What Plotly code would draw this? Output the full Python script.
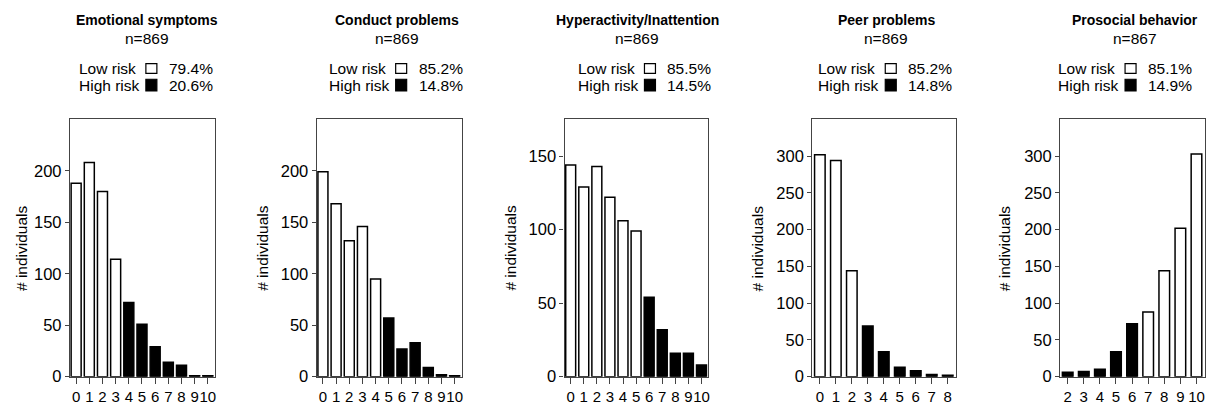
import plotly.graph_objects as go

# ---------------- data ----------------
panel_titles = ["Emotional symptoms", "Conduct problems", "Hyperactivity/Inattention",
                "Peer problems", "Prosocial behavior"]
n_labels = ["n=869", "n=869", "n=869", "n=869", "n=867"]
low_pct = ["79.4%", "85.2%", "85.5%", "85.2%", "85.1%"]
high_pct = ["20.6%", "14.8%", "14.5%", "14.8%", "14.9%"]

emotional_scores = [0, 1, 2, 3, 4, 5, 6, 7, 8, 9, 10]
emotional_counts = [188, 208, 180, 114, 72, 51, 29, 14, 11, 1, 1]
emotional_risk = ["L", "L", "L", "L", "H", "H", "H", "H", "H", "H", "H"]

conduct_scores = [0, 1, 2, 3, 4, 5, 6, 7, 8, 9, 10]
conduct_counts = [199, 168, 132, 146, 95, 57, 27, 33, 9, 2, 1]
conduct_risk = ["L", "L", "L", "L", "L", "H", "H", "H", "H", "H", "H"]

hyper_scores = [0, 1, 2, 3, 4, 5, 6, 7, 8, 9, 10]
hyper_counts = [144, 129, 143, 122, 106, 99, 54, 32, 16, 16, 8]
hyper_risk = ["L", "L", "L", "L", "L", "L", "H", "H", "H", "H", "H"]

peer_scores = [0, 1, 2, 3, 4, 5, 6, 7, 8]
peer_counts = [302, 294, 144, 69, 34, 13, 8, 3, 2]
peer_risk = ["L", "L", "L", "H", "H", "H", "H", "H", "H"]

prosocial_scores = [2, 3, 4, 5, 6, 7, 8, 9, 10]
prosocial_counts = [6, 7, 10, 34, 72, 88, 144, 202, 303]
prosocial_risk = ["H", "H", "H", "H", "H", "L", "L", "L", "L"]

y_ticks = [[0, 50, 100, 150, 200], [0, 50, 100, 150, 200], [0, 50, 100, 150],
           [0, 50, 100, 150, 200, 250, 300], [0, 50, 100, 150, 200, 250, 300]]
y_max = [250, 250, 175, 350, 350]

# ---------------- layout constants ----------------
W, H = 1209, 417
FONT = "Liberation Sans, Arial, Helvetica, sans-serif"
frames_px = [(70, 215), (317, 462), (565, 709), (813, 957), (1061, 1206)]
frame_top, frame_bot = 122, 385
bar_widths = [0.76, 0.76, 0.76, 0.66, 0.66]
box_left_px = [146, 396, 645, 886, 1126]
title_cx_px = [147, 397, 638, 887, 1136]
ytitle_off_px = [49, 55, 55, 55, 56]

panels = [
    (emotional_scores, emotional_counts, emotional_risk),
    (conduct_scores, conduct_counts, conduct_risk),
    (hyper_scores, hyper_counts, hyper_risk),
    (peer_scores, peer_counts, peer_risk),
    (prosocial_scores, prosocial_counts, prosocial_risk),
]


def px_x(p):
    return p / W


def px_y(p):
    return 1 - p / H


fig = go.Figure()
annotations = []
shapes = []

for i, (scores, counts, risk) in enumerate(panels):
    k = i + 1
    xa = "x" if k == 1 else f"x{k}"
    ya = "y" if k == 1 else f"y{k}"
    colors = ["black" if r == "H" else "white" for r in risk]
    fig.add_trace(go.Bar(
        x=scores, y=counts, xaxis=xa, yaxis=ya,
        marker=dict(color=colors, line=dict(color="black", width=1.5)),
        width=bar_widths[i], showlegend=False, hoverinfo="x+y",
    ))
    L, R = frames_px[i]
    fig.layout[f"xaxis{'' if k == 1 else k}"] = dict(
        domain=[px_x(L), px_x(R)], anchor=ya,
        range=[scores[0] - 0.47, scores[-1] + 0.53],
        tickmode="array", tickvals=scores, ticktext=[str(s) for s in scores],
        ticks="outside", ticklen=6, tickwidth=1.3, tickcolor="#444",
        showline=True, mirror=True, linecolor="#444", linewidth=1.3,
        showgrid=False, zeroline=False, tickangle=0,
        tickfont=dict(family=FONT, size=15, color="black"),
        fixedrange=True,
    )
    fig.layout[f"yaxis{'' if k == 1 else k}"] = dict(
        domain=[px_y(frame_bot), px_y(frame_top)], anchor=xa,
        range=[0, y_max[i]],
        tickmode="array", tickvals=y_ticks[i],
        ticks="outside", ticklen=4, tickwidth=1.3, tickcolor="#444",
        showline=True, mirror=True, linecolor="#444", linewidth=1.3,
        showgrid=False, zeroline=False,
        tickfont=dict(family=FONT, size=16.5, color="black"),
        fixedrange=True,
    )

    cx = title_cx_px[i]
    annotations.append(dict(
        text=f"<b>{panel_titles[i]}</b>", x=px_x(cx), y=px_y(20),
        xref="paper", yref="paper", xanchor="center", yanchor="middle",
        showarrow=False, font=dict(family=FONT, size=14, color="black")))
    annotations.append(dict(
        text=n_labels[i], x=px_x(cx), y=px_y(39),
        xref="paper", yref="paper", xanchor="center", yanchor="middle",
        showarrow=False, font=dict(family=FONT, size=15.5, color="black")))

    bl = box_left_px[i]
    for row_y, lab, pct, fill, bh in [(70, "Low risk", low_pct[i], "white", 10),
                                      (87, "High risk", high_pct[i], "black", 12)]:
        annotations.append(dict(
            text=lab, x=px_x(bl - 69), y=px_y(row_y),
            xref="paper", yref="paper", xanchor="left", yanchor="middle",
            showarrow=False, font=dict(family=FONT, size=15.5, color="black")))
        annotations.append(dict(
            text=pct, x=px_x(bl + 21), y=px_y(row_y),
            xref="paper", yref="paper", xanchor="left", yanchor="middle",
            showarrow=False, font=dict(family=FONT, size=15.5, color="black")))
        shapes.append(dict(
            type="rect", xref="paper", yref="paper",
            x0=px_x(bl), x1=px_x(bl + 11), y0=px_y(row_y + bh / 2), y1=px_y(row_y - bh / 2),
            line=dict(color="black", width=1.2), fillcolor=fill))

    annotations.append(dict(
        text="# individuals", x=px_x(L - ytitle_off_px[i]),
        y=px_y((frame_top + frame_bot) / 2),
        xref="paper", yref="paper", xanchor="center", yanchor="middle",
        textangle=-90, showarrow=False,
        font=dict(family=FONT, size=15.5, color="black")))

fig.update_layout(
    width=W, height=H,
    margin=dict(l=0, r=0, t=0, b=0),
    paper_bgcolor="white", plot_bgcolor="white",
    annotations=annotations, shapes=shapes,
)

page_css_fix = (
    "document.documentElement.style.margin='0';"
    "document.documentElement.style.padding='0';"
    "document.documentElement.style.overflow='hidden';"
    "document.body.style.margin='0';"
    "document.body.style.padding='0';"
    "document.body.style.overflow='hidden';"
    "document.body.style.lineHeight='0';"
    "document.body.style.fontSize='0';"
)

fig.write_html(
    "out.html",
    config={"displayModeBar": False},
    post_script=page_css_fix,
)
